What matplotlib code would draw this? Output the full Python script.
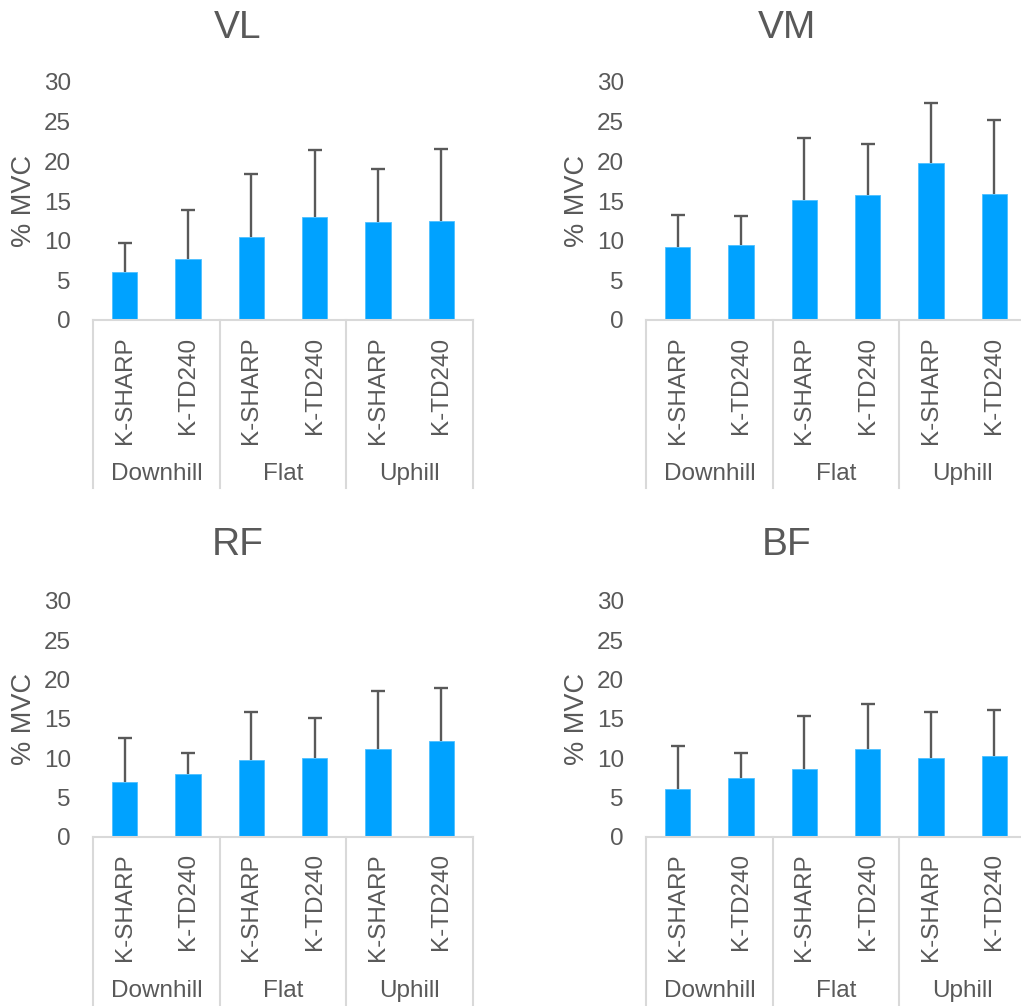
import numpy as np
import matplotlib
matplotlib.use("Agg")
import matplotlib.pyplot as plt

plt.rcParams["font.family"] = ["Liberation Sans", "DejaVu Sans"]

# Data
muscles = ["VL", "VM", "RF", "BF"]
conditions = ["Downhill", "Flat", "Uphill"]
shoes = ["K-SHARP", "K-TD240"]

vl_mean = [6.0, 7.7, 10.4, 13.0, 12.3, 12.5]
vl_sd = [3.7, 6.2, 8.0, 8.4, 6.7, 9.0]
vm_mean = [9.2, 9.4, 15.1, 15.7, 19.8, 15.9]
vm_sd = [4.0, 3.7, 7.9, 6.5, 7.6, 9.3]
rf_mean = [7.0, 8.0, 9.7, 10.0, 11.1, 12.2]
rf_sd = [5.6, 2.7, 6.2, 5.1, 7.4, 6.7]
bf_mean = [6.1, 7.4, 8.6, 11.1, 10.0, 10.3]
bf_sd = [5.4, 3.2, 6.8, 5.8, 5.9, 5.8]

means = [vl_mean, vm_mean, rf_mean, bf_mean]
sds = [vl_sd, vm_sd, rf_sd, bf_sd]

BAR = "#00A2FF"
TXT = "#595959"
GRID = "#D9D9D9"

W, H = 1021, 1006
fig = plt.figure(figsize=(W / 100, H / 100), dpi=100)

# axes placement in pixels: (left, top of y=30, bottom y=0)
ax_w = 380
places = [(93, 82, 320), (646, 82, 320), (93, 600.7, 836.7), (646, 600.7, 836.7)]
title_pos = [(238, 28), (787, 28), (238, 545), (787, 545)]
sep_depth = [168, 168, 175, 175]

labels = [s for c in conditions for s in shoes]
x = np.arange(len(labels))

for i, name in enumerate(muscles):
    left, top, bottom = places[i]
    ax_h = bottom - top
    ax = fig.add_axes([left / W, (H - bottom) / H, ax_w / W, ax_h / H])
    ax.bar(x, means[i], width=0.4, color=BAR, edgecolor="#4DC0FF", linewidth=0.6, zorder=2)
    eb = ax.errorbar(x, means[i], yerr=[np.zeros(len(x)), sds[i]], fmt="none",
                     ecolor=TXT, elinewidth=1.7, capsize=5, capthick=1.7, zorder=3)
    eb[1][0].remove()  # only the upper cap
    ax.set_xlim(-0.5, len(x) - 0.5)
    ax.set_ylim(0, 30)
    ax.set_yticks(range(0, 31, 5))
    for s in ["top", "right", "left"]:
        ax.spines[s].set_visible(False)
    ax.spines["bottom"].set_color(GRID)
    ax.spines["bottom"].set_linewidth(1.5)
    ax.tick_params(axis="y", length=0, pad=16, labelsize=17.5, labelcolor=TXT)
    ax.set_xticks(x)
    ax.set_xticklabels(labels, rotation=90, va="top")
    ax.tick_params(axis="x", length=0, pad=12, labelsize=17.5, labelcolor=TXT)
    ax.set_ylabel("% MVC", fontsize=19.5, color=TXT)
    ax.yaxis.set_label_coords(-56 / ax_w, 0.5)

    tr = ax.get_xaxis_transform()
    depth = sep_depth[i] / ax_h
    for b in [-0.5, 1.5, 3.5, 5.5]:
        ax.plot([b, b], [0, -depth], transform=tr, color=GRID, lw=1.5, clip_on=False)
    for g, cond in enumerate(conditions):
        ax.text(2 * g + 0.5, -154 / ax_h, cond, transform=tr, ha="center", va="center",
                fontsize=17.5, color=TXT)

    tx, ty = title_pos[i]
    fig.text(tx / W, 1 - ty / H, name, ha="center", va="center", fontsize=28, color=TXT)

fig.savefig("out.png", dpi=100, facecolor="white")
